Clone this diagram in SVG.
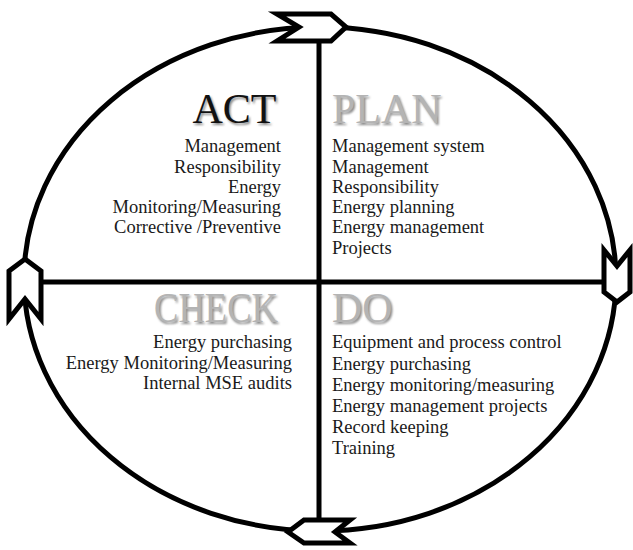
<svg xmlns="http://www.w3.org/2000/svg" width="633" height="550" viewBox="0 0 633 550">
<defs>
<style>
.ln{fill:none;stroke:#000;stroke-width:5}
.ar{fill:#fff;stroke:#000;stroke-width:5;stroke-linejoin:miter}
.t{font-family:"Liberation Serif","Times New Roman",serif;font-size:18.5px;fill:#1a1a1a}
.r{text-anchor:end}
.h{font-family:"Liberation Serif","Times New Roman",serif;font-size:42px}
.hs{fill:#888;filter:url(#blur)}
.hb{fill:#111}
.hg{fill:#b4b4b4}
</style>
<filter id="blur" x="-10%" y="-10%" width="120%" height="120%"><feGaussianBlur stdDeviation="0.8"/></filter>
</defs>
<rect width="633" height="550" fill="#fff"/>
<g id="connectors">
<ellipse class="ln" cx="320" cy="279" rx="296" ry="252"/>
<line class="ln" x1="319" y1="40" x2="319" y2="520"/>
<line class="ln" x1="40" y1="282" x2="606" y2="282"/>
</g>
<g id="arrow-top"><polygon class="ar" points="277,14 331,14 346,27 331,41 277,41 299,27"/></g>
<g id="arrow-right"><polygon class="ar" points="604,250 617,266 630,250 630,292 617,302 604,292"/></g>
<g id="arrow-bottom"><polygon class="ar" points="288,532 304,520 350,520 335,532 350,543 304,543"/></g>
<g id="arrow-left"><polygon class="ar" points="25,259 41,271 41,319 25,299 9,319 9,271"/></g>
<g id="act">
<text class="h hs r" x="278" y="124.5">ACT</text>
<text class="h hb r" x="276.5" y="123">ACT</text>
<text class="t r" x="281" y="152">Management</text>
<text class="t r" x="281" y="172.5">Responsibility</text>
<text class="t r" x="281" y="192.5">Energy</text>
<text class="t r" x="281" y="212.5">Monitoring/Measuring</text>
<text class="t r" x="281" y="233">Corrective /Preventive</text>
</g>
<g id="plan">
<text class="h hs" x="333.5" y="124.5">PLAN</text>
<text class="h hg" x="332" y="123">PLAN</text>
<text class="t" x="332" y="152">Management system</text>
<text class="t" x="332" y="172.5">Management</text>
<text class="t" x="332" y="192.5">Responsibility</text>
<text class="t" x="332" y="213">Energy planning</text>
<text class="t" x="332" y="233">Energy management</text>
<text class="t" x="332" y="253.5">Projects</text>
</g>
<g id="check">
<text class="h hs r" x="279.5" y="323.5" textLength="124" lengthAdjust="spacingAndGlyphs">CHECK</text>
<text class="h hg r" x="278" y="322" textLength="124" lengthAdjust="spacingAndGlyphs">CHECK</text>
<text class="t r" x="292" y="348">Energy purchasing</text>
<text class="t r" x="292" y="368.5">Energy Monitoring/Measuring</text>
<text class="t r" x="292" y="389">Internal MSE audits</text>
</g>
<g id="do">
<text class="h hs" x="333.5" y="323.5">DO</text>
<text class="h hg" x="332" y="322">DO</text>
<text class="t" x="332" y="348">Equipment and process control</text>
<text class="t" x="332" y="369.5">Energy purchasing</text>
<text class="t" x="332" y="390.5">Energy monitoring/measuring</text>
<text class="t" x="332" y="411.5">Energy management projects</text>
<text class="t" x="332" y="432.5">Record keeping</text>
<text class="t" x="332" y="454">Training</text>
</g>
</svg>
